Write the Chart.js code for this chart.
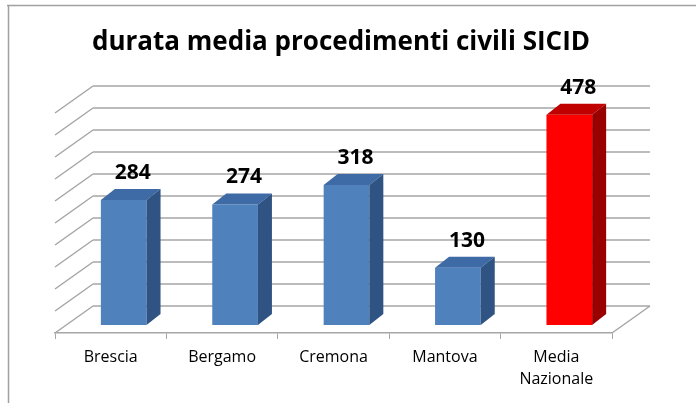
<!DOCTYPE html>
<html>
<head>
<meta charset="utf-8">
<script src="https://cdn.jsdelivr.net/npm/chart.js@4"></script>
<style>
  html, body { margin: 0; padding: 0; background: #fff; }
  canvas { display: block; }
</style>
</head>
<body>
<canvas id="chart" width="696" height="403"></canvas>
<script>
// data
var titleText = 'durata media procedimenti civili SICID';
var categories = ['Brescia', 'Bergamo', 'Cremona', 'Mantova', ['Media', 'Nazionale']];
var values = [284, 274, 318, 130, 478];
var yTicks = [0, 50, 100, 150, 200, 250, 300, 350, 400, 450, 500];

var frontColors = ['#4F81BD', '#4F81BD', '#4F81BD', '#4F81BD', '#FF0000'];
var topColors = ['#3E6BA5', '#3E6BA5', '#3E6BA5', '#3E6BA5', '#C00000'];
var sideColors = ['#2F5382', '#2F5382', '#2F5382', '#2F5382', '#990000'];

var wallColor = '#a6a6a6';
var backShift = { x: 38, y: -27 };  // floor front -> back wall
var barShift = { x: 13, y: -8 };    // floor front -> bar front plane
var barDepth = { x: 14, y: -11 };   // bar front -> bar back

// frame and title
var framePlugin = {
    id: 'frame',
    beforeDraw: function(chart) {
        var ctx = chart.ctx;
        ctx.save();
        ctx.fillStyle = '#fff';
        ctx.fillRect(0, 0, chart.width, chart.height);
        ctx.strokeStyle = '#a0a0a0';
        ctx.lineWidth = 1.5;
        ctx.beginPath();
        ctx.moveTo(7, 5.5);
        ctx.lineTo(chart.width, 5.5);
        ctx.moveTo(8.5, 5);
        ctx.lineTo(8.5, chart.height);
        ctx.stroke();
        ctx.restore();
    },
    afterDraw: function(chart) {
        var ctx = chart.ctx;
        ctx.save();
        ctx.fillStyle = '#000';
        ctx.font = 'bold 26px "Open Sans"';
        ctx.textAlign = 'center';
        ctx.textBaseline = 'alphabetic';
        ctx.fillText(titleText, 341, 50);
        ctx.restore();
    }
};

// back wall, side wall and floor, then the 3D faces of the bars
var box3dPlugin = {
    id: 'box3d',
    beforeDatasetsDraw: function(chart) {
        var ctx = chart.ctx;
        var area = chart.chartArea;
        var y = chart.scales.y;
        var ticks = (y.ticks && y.ticks.length) ? y.ticks.map(function(t) { return t.value; }) : yTicks;

        ctx.save();
        ctx.strokeStyle = wallColor;
        ctx.lineWidth = 1.5;
        ctx.beginPath();
        ticks.forEach(function(v) {
            var py = y.getPixelForValue(v);
            // back wall line
            ctx.moveTo(area.left + backShift.x, py + backShift.y);
            ctx.lineTo(area.right + backShift.x, py + backShift.y);
            // left wall diagonal
            ctx.moveTo(area.left + backShift.x, py + backShift.y);
            ctx.lineTo(area.left, py);
        });
        // right edge of the floor
        var py0 = y.getPixelForValue(0);
        ctx.moveTo(area.right + backShift.x, py0 + backShift.y);
        ctx.lineTo(area.right, py0);
        ctx.stroke();
        ctx.restore();

        ctx.save();
        ctx.translate(barShift.x, barShift.y);
    },
    afterDatasetsDraw: function(chart) {
        var ctx = chart.ctx;
        var meta = chart.getDatasetMeta(0);
        meta.data.forEach(function(bar, i) {
            var p = bar.getProps(['x', 'y', 'base', 'width'], true);
            var l = p.x - p.width / 2;
            var r = p.x + p.width / 2;
            // top face
            ctx.fillStyle = topColors[i];
            ctx.beginPath();
            ctx.moveTo(l, p.y);
            ctx.lineTo(r, p.y);
            ctx.lineTo(r + barDepth.x, p.y + barDepth.y);
            ctx.lineTo(l + barDepth.x, p.y + barDepth.y);
            ctx.closePath();
            ctx.fill();
            // side face
            ctx.fillStyle = sideColors[i];
            ctx.beginPath();
            ctx.moveTo(r, p.y);
            ctx.lineTo(r + barDepth.x, p.y + barDepth.y);
            ctx.lineTo(r + barDepth.x, p.base + barDepth.y);
            ctx.lineTo(r, p.base);
            ctx.closePath();
            ctx.fill();
            // value label
            ctx.fillStyle = '#000';
            ctx.font = 'bold 21px "Open Sans"';
            ctx.textAlign = 'center';
            ctx.textBaseline = 'middle';
            ctx.fillText(values[i], p.x + 9, p.y - 27);
        });
        ctx.restore();
    }
};

var chart = new Chart(document.getElementById('chart').getContext('2d'), {
    type: 'bar',
    data: {
        labels: categories,
        datasets: [{
            data: values,
            backgroundColor: frontColors,
            borderWidth: 0,
            barPercentage: 0.41,
            categoryPercentage: 1,
            clip: false
        }]
    },
    options: {
        responsive: false,
        animation: false,
        devicePixelRatio: 1,
        layout: {
            padding: { top: 113, left: 55, right: 84, bottom: 0 }
        },
        plugins: {
            legend: { display: false },
            tooltip: { enabled: false },
            title: { display: false }
        },
        scales: {
            x: {
                afterFit: function(scale) { scale.height = 70; },
                grid: {
                    display: true,
                    drawOnChartArea: false,
                    drawTicks: true,
                    tickLength: 6,
                    offset: true,
                    color: wallColor,
                    lineWidth: 1
                },
                border: { display: true, color: wallColor, width: 1.5 },
                ticks: {
                    color: '#000',
                    padding: 7,
                    maxRotation: 0,
                    autoSkip: false,
                    font: { family: '"Open Sans"', size: 16, lineHeight: 1.375 }
                }
            },
            y: {
                display: false,
                min: 0,
                max: 500,
                ticks: { stepSize: 50 }
            }
        }
    },
    plugins: [framePlugin, box3dPlugin]
});
</script>
</body>
</html>
